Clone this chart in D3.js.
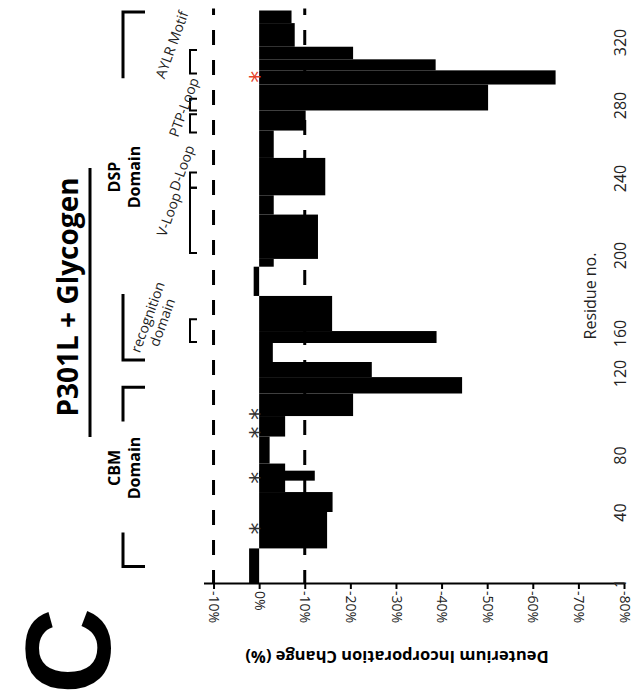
<!DOCTYPE html>
<html><head><meta charset="utf-8">
<script src="https://cdn.jsdelivr.net/npm/d3@7"></script>
<style>
body{margin:0;background:#fff}
svg{display:block}
text{font-family:"Open Sans",sans-serif;fill:#000}
</style>
</head><body>
<svg id="c" width="634" height="695"></svg>
<script>
// ---- data ----
const peptideStart = [1,20,40,54,62,74,89,99,110,118,131,150,161,179,194,198,221,231,251,266,277,293,302,309,317,332];
const peptideEnd   = [20,40,54,74,69,89,99,110,118,131,150,161,179,194,198,221,231,251,266,277,293,302,309,317,332,340];
const deltaHDX     = [2.2,-14.9,-16.1,-5.7,-12.2,-2.3,-5.7,-20.6,-44.5,-24.7,-3.0,-38.9,-16.0,1.2,-3.2,-12.9,-3.2,-14.5,-3.2,-10.2,-50.2,-65.0,-38.7,-20.6,-7.8,-7.1];
const percentTicks = [10,0,-10,-20,-30,-40,-50,-60,-70,-80];
const percentTickLabels = ["-10%","0%","-10%","-20%","-30%","-40%","-50%","-60%","-70%","-80%"];
const residueTicks = [1,40,80,120,160,200,240,280,320];
const thresholds = [10,-10];
const sigResidues = [31,64,91,100];
const mutationResidues = [298];
const domainLines = [["DSP","Domain"],["CBM","Domain"]];
const domainStart = [133,10];
const domainEnd = [339,113];
const motifLines = [["AYLR Motif"],[],["PTP-Loop"],["D-Loop"],["V-Loop"],["recognition","domain"]];
const motifStart = [300,277,265,235,201,151];
const motifEnd = [315,284,275,243,235,167];
const titleText = "P301L + Glycogen";
const panelLetter = "C";
const xTitle = "Deuterium Incorporation Change (%)";
const yTitle = "Residue no.";

// ---- layout ----
const motifLabelOffset = [[-18,-17],[0,0],[-6,-16],[-8,-12],[-21,-6],[-35,-11]];
const svg = d3.select("#c");
const x = d3.scaleLinear().domain([12.2,-80]).range([203.5,624]);
const y = d3.scaleLinear()
  .domain([1,40,80,120,160,200,240,280,320,340])
  .range([583,512,455,373,333,255,178,105,42,10.5]);

// threshold dashed lines
svg.append("g").selectAll("line").data(thresholds).join("line")
  .attr("x1",d=>x(d)).attr("x2",d=>x(d))
  .attr("y1",8.5).attr("y2",y(1))
  .attr("stroke","#000").attr("stroke-width",3)
  .attr("stroke-dasharray","15,15").attr("stroke-dashoffset",8.5);

// bars
const idx = d3.range(deltaHDX.length);
svg.append("g").selectAll("rect").data(idx).join("rect")
  .attr("x",i=>Math.min(x(deltaHDX[i]),x(0)))
  .attr("width",i=>Math.abs(x(deltaHDX[i])-x(0)))
  .attr("y",i=>y(peptideEnd[i]))
  .attr("height",i=>y(peptideStart[i])-y(peptideEnd[i]))
  .attr("fill","#000");

// bottom (percent) axis
const gx = svg.append("g").attr("transform",`translate(0,${y(1)})`)
  .call(d3.axisBottom(x).tickValues(percentTicks)
    .tickFormat((d,i)=>percentTickLabels[i]).tickSize(6).tickSizeOuter(0));
gx.attr("font-size",null).attr("font-family",null);
gx.select(".domain").attr("stroke-width",2);
gx.selectAll(".tick line").attr("stroke-width",2);
gx.selectAll(".tick text")
  .attr("x",0).attr("y",0).attr("dy","0.35em")
  .attr("text-anchor","start")
  .attr("transform","translate(0,8) rotate(90)")
  .style("font-size","14px").style("fill","#222");

// right (residue) axis labels
const gy = svg.append("g").attr("transform","translate(620,0)")
  .call(d3.axisRight(y).tickValues(residueTicks).tickSize(0).tickPadding(0).tickFormat(d3.format("d")));
gy.attr("font-size",null).attr("font-family",null);
gy.select(".domain").remove();
gy.selectAll(".tick text")
  .attr("x",0).attr("y",0).attr("dy","0.35em")
  .attr("text-anchor","middle")
  .attr("transform","rotate(-90)")
  .style("font-size","16px").style("fill","#222");

svg.append("text").attr("transform","translate(590,296) rotate(-90)")
  .attr("text-anchor","middle").attr("dy","0.35em")
  .style("font-size","16px").style("fill","#222").text(yTitle);

svg.append("text").attr("transform","translate(397,651) rotate(180)")
  .attr("text-anchor","middle")
  .style("font-size","16.5px").style("font-weight","bold").text(xTitle);

// title
svg.append("text").attr("transform","translate(78,297) rotate(-90)")
  .attr("text-anchor","middle")
  .style("font-size","28px").style("font-weight","bold").text(titleText);
svg.append("line").attr("x1",90).attr("x2",90).attr("y1",168).attr("y2",437)
  .attr("stroke","#000").attr("stroke-width",3);

// panel letter
svg.append("text").attr("transform","translate(110,651) rotate(-90)")
  .attr("text-anchor","middle")
  .style("font-family","'Liberation Sans',Arial,sans-serif")
  .style("font-size","120px").style("font-weight","bold").text(panelLetter);

// domain brackets
const dG = svg.append("g");
domainStart.forEach((s,i)=>{
  const yTop = y(domainEnd[i]), yBot = y(s);
  const arm = 0.19*(yBot-yTop);
  dG.append("path").attr("d",`M145,${yTop}H123V${yTop+arm}`)
    .attr("fill","none").attr("stroke","#000").attr("stroke-width",3);
  dG.append("path").attr("d",`M123,${yBot-arm}V${yBot}H145`)
    .attr("fill","none").attr("stroke","#000").attr("stroke-width",3);
  const cy = (yTop+yBot)/2 - 9;
  const t = dG.append("text").attr("transform",`translate(120,${cy}) rotate(-90)`)
    .attr("text-anchor","middle").style("font-size","16px").style("font-weight","bold");
  domainLines[i].forEach((ln,j)=>{
    t.append("tspan").attr("x",0).attr("dy",j===0?0:20).text(ln);
  });
});

// motif brackets and labels
const mG = svg.append("g");
motifStart.forEach((s,i)=>{
  const yTop = y(motifEnd[i]), yBot = y(s);
  mG.append("path").attr("d",`M197,${yTop}H190V${yBot}H197`)
    .attr("fill","none").attr("stroke","#000").attr("stroke-width",2);
  if(!motifLines[i].length) return;
  const cx = 190+motifLabelOffset[i][0], cy = (yTop+yBot)/2+motifLabelOffset[i][1];
  const n = motifLines[i].length;
  const t = mG.append("text").attr("transform",`translate(${cx},${cy}) rotate(-70)`)
    .attr("text-anchor","middle").style("font-size","14px").style("fill","#222");
  motifLines[i].forEach((ln,j)=>{
    t.append("tspan").attr("x",0)
      .attr("dy", j===0 ? (0.35-0.55*(n-1))+"em" : "1.1em").text(ln);
  });
});

// asterisks
const aG = svg.append("g");
aG.selectAll("text.sig").data(sigResidues).join("text")
  .attr("transform",d=>`translate(252,${y(d)}) rotate(-90)`)
  .attr("text-anchor","middle").attr("dy","0.62em")
  .style("font-family","DejaVu Sans").style("font-size","24px").style("fill","#333").text("*");
aG.selectAll("text.mut").data(mutationResidues).join("text")
  .attr("transform",d=>`translate(252,${y(d)}) rotate(-90)`)
  .attr("text-anchor","middle").attr("dy","0.62em")
  .style("font-family","DejaVu Sans").style("font-size","24px").style("fill","#e5432b").text("*");
</script>
</body></html>
